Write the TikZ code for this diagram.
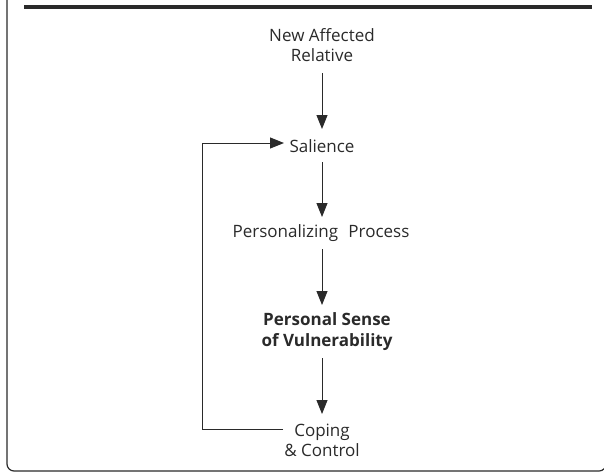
\documentclass[tikz,border=0pt]{standalone}
\usepackage{fontspec}
\setmainfont{Open Sans}
\usetikzlibrary{arrows.meta}
\definecolor{ink}{HTML}{2A2A2A}
\begin{document}
\begin{tikzpicture}[x=1pt,y=-1pt,
  lbl/.style={font=\fontsize{17}{20}\selectfont, text=ink, align=center, inner sep=0pt},
  flow/.style={draw=ink, line width=1pt, -{Triangle[length=14pt,width=11pt]}},
  fb/.style={draw=ink, line width=1pt}]
\useasboundingbox (0,0) rectangle (604,472);
\draw[ink, line width=1.2pt, rounded corners=7pt] (7,-30) rectangle (606,471);
\draw[ink, line width=4pt] (24,7) -- (592,7);
\node[lbl] (nar) at (322,45) {New Affected\\Relative};
\node[lbl] (sal) at (322,146) {Salience};
\node[lbl] (pp) at (321,233) {Personalizing\hspace{0.6em}Process};
\node[lbl, font=\fontsize{17}{21}\selectfont\bfseries] (psv) at (327,332) {Personal Sense\\of Vulnerability};
\node[lbl] (cc) at (322,440) {Coping\\\&\ Control};
\coordinate (a1s) at (322,73);
\coordinate (a1e) at (322,129);
\draw[flow] (a1s) -- (a1e);
\coordinate (a2s) at (322,162);
\coordinate (a2e) at (322,217);
\draw[flow] (a2s) -- (a2e);
\coordinate (a3s) at (322,249);
\coordinate (a3e) at (322,305);
\draw[flow] (a3s) -- (a3e);
\coordinate (a4s) at (322,358);
\coordinate (a4e) at (322,414);
\draw[flow] (a4s) -- (a4e);
\coordinate (fbs) at (283,429);
\coordinate (fbe) at (284,143);
\draw[fb] (fbs) -- (202,429) -- (202,143) -- (244,143);
\draw[flow] (240,143) -- (fbe);
\end{tikzpicture}
\end{document}
